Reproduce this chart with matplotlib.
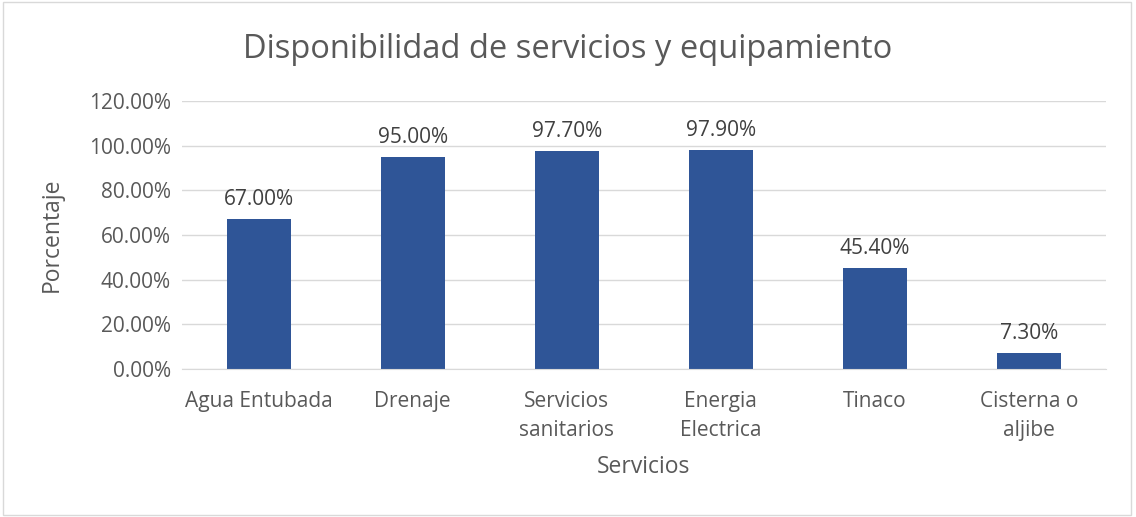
import matplotlib
matplotlib.use("Agg")
import matplotlib.pyplot as plt
from matplotlib.patches import Rectangle
from matplotlib.ticker import FuncFormatter

categories = ["Agua Entubada", "Drenaje", "Servicios\nsanitarios", "Energia\nElectrica", "Tinaco", "Cisterna o\naljibe"]
values = [0.67, 0.95, 0.977, 0.979, 0.454, 0.073]
yticks = [0, 0.2, 0.4, 0.6, 0.8, 1.0, 1.2]

plt.rcParams['font.family'] = ['Open Sans', 'DejaVu Sans']
txt = "#595959"

fig = plt.figure(figsize=(11.36, 5.17), dpi=100)
ax = fig.add_axes([0.160, 0.2863, 0.8134, 0.5183])
x = list(range(len(categories)))
ax.bar(x, values, width=0.415, color="#2F5597", zorder=3)
for xi, v in zip(x, values):
    ax.text(xi, v + 0.04, f"{v*100:.2f}%", ha="center", va="bottom", fontsize=15, color="#404040")
ax.set_xlim(-0.5, len(categories) - 0.5)
ax.set_ylim(0, 1.2)
ax.set_yticks(yticks)
ax.yaxis.set_major_formatter(FuncFormatter(lambda v, p: f"{v*100:.2f}%"))
ax.set_xticks(x)
ax.set_xticklabels(categories, fontsize=15, color=txt, linespacing=1.5)
ax.tick_params(axis="y", labelsize=15, labelcolor=txt, length=0, pad=8)
ax.tick_params(axis="x", length=0, pad=16)
ax.grid(axis="y", color="#D9D9D9", linewidth=1, zorder=0)
for s in ["top", "right", "left"]:
    ax.spines[s].set_visible(False)
ax.spines["bottom"].set_color("#D9D9D9")
ax.spines["bottom"].set_zorder(4)
ax.set_xlabel("Servicios", fontsize=16.5, color=txt)
ax.set_ylabel("Porcentaje", fontsize=16.5, color=txt)
ax.xaxis.set_label_coords(0.5, -0.366)
ax.yaxis.set_label_coords(-0.141, 0.5)
ax.xaxis.label.set_va("center")
ax.yaxis.label.set_va("center")
fig.text(0.5, 0.905, "Disponibilidad de servicios y equipamiento", ha="center", va="center", fontsize=23.5, color=txt)
fig.patches.append(Rectangle((0.003, 0.004), 0.993, 0.992, transform=fig.transFigure, fill=False, edgecolor="#D9D9D9", linewidth=1))
fig.savefig("out.png", dpi=100)
